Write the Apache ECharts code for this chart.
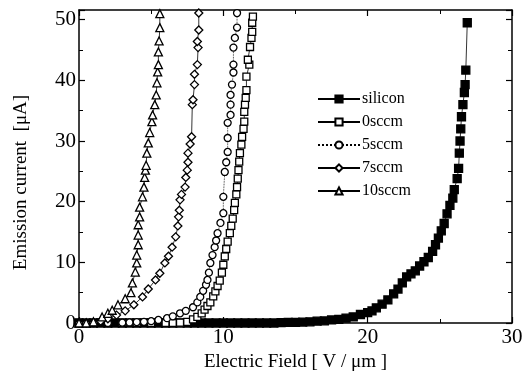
<!DOCTYPE html>
<html>
<head>
<meta charset="utf-8">
<script src="https://cdn.jsdelivr.net/npm/echarts@6/dist/echarts.min.js"></script>
<style>
  html, body { margin: 0; padding: 0; background: #fff; }
  #chart { width: 530px; height: 379px; }
</style>
</head>
<body>
<div id="chart"></div>
<script>
// emission current [uA] vs electric field [V/um]
const seriesNames = ["silicon", "0sccm", "5sccm", "7sccm", "10sccm"];

const silicon = [
  [0, 0], [0.5, 0], [1, 0], [1.5, 0], [2, 0], [2.5, 0], [3, 0], [3.5, 0], [4, 0], [4.5, 0],
  [5, 0], [5.5, 0], [6, 0], [6.5, 0], [7, 0], [7.5, 0], [8, 0], [8.5, 0], [9, 0], [9.5, 0],
  [10, 0], [10.5, 0], [11, 0], [11.5, 0], [12, 0], [12.5, 0], [13, 0], [13.5, 0],
  [14, 0.05], [14.5, 0.1], [15, 0.1], [15.5, 0.15], [16, 0.2], [16.5, 0.3], [17, 0.35],
  [17.5, 0.5], [18, 0.6], [18.5, 0.8], [19, 1.0], [19.5, 1.4], [20, 1.7], [20.3, 2.0],
  [20.6, 2.5], [21, 3.1], [21.4, 3.8], [21.8, 4.8], [22.1, 5.6], [22.4, 6.6], [22.7, 7.6],
  [23, 8.1], [23.3, 8.6], [23.6, 9.4], [23.9, 10.1], [24.2, 10.8], [24.5, 11.8], [24.7, 12.9],
  [24.9, 14.0], [25.1, 15.2], [25.3, 16.4], [25.5, 18.0], [25.7, 19.4], [25.9, 20.6],
  [26.0, 22.0], [26.2, 23.8], [26.3, 25.5], [26.35, 28.0], [26.4, 30.0], [26.45, 32.0],
  [26.5, 34.0], [26.6, 36.0], [26.7, 38.0], [26.75, 39.3], [26.8, 41.7], [26.9, 49.5]
];

const sccm0 = [
  [0, 0], [1, 0], [2, 0], [3, 0], [4, 0], [5, 0], [6, 0], [6.5, 0], [7, 0.05], [7.5, 0.2],
  [7.9, 0.6], [8.2, 1.0], [8.5, 1.6], [8.7, 2.2], [8.9, 2.8], [9.1, 3.4], [9.3, 4.4],
  [9.45, 5.2], [9.6, 6.1], [9.75, 7.0], [9.9, 8.3], [10.0, 9.6], [10.1, 11.0], [10.2, 12.2],
  [10.3, 13.4], [10.45, 14.8], [10.55, 16.0], [10.65, 17.2], [10.75, 18.6], [10.8, 19.8],
  [10.9, 21.2], [10.95, 22.4], [11.0, 23.8], [11.05, 25.2], [11.1, 26.6], [11.15, 28.0],
  [11.25, 29.4], [11.3, 30.7], [11.4, 32.0], [11.45, 33.2], [11.45, 34.8], [11.5, 36.0],
  [11.55, 37.1], [11.6, 38.4], [11.6, 40.6], [11.8, 42.6], [11.7, 43.4], [11.85, 45.5],
  [11.95, 47.0], [12.0, 48.0], [12.0, 49.5], [12.05, 50.5]
];

const sccm5 = [
  [0, 0], [1, 0], [2, 0], [3, 0.05], [3.5, 0.1], [4, 0.15], [4.5, 0.2], [5, 0.3], [5.5, 0.5],
  [6.1, 0.8], [6.5, 1.1], [7.0, 1.6], [7.4, 2.0], [7.9, 2.6], [8.2, 3.4], [8.4, 4.3],
  [8.6, 5.3], [8.8, 6.3], [8.9, 7.1], [9.0, 8.3], [9.1, 9.9], [9.25, 11.2], [9.4, 12.5],
  [9.5, 13.6], [9.6, 14.8], [9.8, 16.5], [10.0, 18.1], [10.0, 20.8], [10.1, 24.9],
  [10.2, 26.5], [10.3, 28.2], [10.3, 30.5], [10.3, 33.0], [10.5, 34.3], [10.5, 36.0],
  [10.5, 37.6], [10.6, 39.3], [10.7, 41.3], [10.7, 42.6], [10.7, 45.4], [10.8, 47.0],
  [10.95, 48.7], [10.95, 51.1]
];

const sccm7 = [
  [0, 0], [0.5, 0], [1, 0.1], [1.5, 0.3], [2.0, 0.7], [2.6, 1.3], [3.2, 2.0], [3.8, 3.0],
  [4.4, 4.3], [4.8, 5.6], [5.3, 7.1], [5.6, 8.2], [5.95, 9.9], [6.2, 11.0], [6.45, 12.5],
  [6.7, 14.2], [6.85, 16.0], [6.9, 17.5], [6.95, 18.6], [7.0, 20.3], [7.1, 21.2],
  [7.35, 22.4], [7.4, 24.0], [7.5, 25.2], [7.55, 26.5], [7.55, 28.0], [7.7, 29.5],
  [7.8, 30.7], [7.85, 36.0], [7.9, 36.8], [8.0, 39.3], [8.0, 41.0], [8.2, 42.6],
  [8.25, 45.4], [8.2, 46.4], [8.3, 48.3], [8.3, 51.1]
];

const sccm10 = [
  [0, 0], [0.5, 0], [1.0, 0.2], [1.6, 1.0], [2.0, 1.6], [2.3, 2.1], [2.7, 3.0], [3.2, 4.0],
  [3.6, 5.0], [3.7, 6.6], [3.9, 8.4], [4.0, 9.9], [4.0, 11.2], [4.1, 12.9], [4.1, 14.5],
  [4.1, 16.2], [4.2, 17.5], [4.2, 19.1], [4.4, 20.8], [4.5, 22.4], [4.55, 24.0], [4.6, 25.2],
  [4.65, 26.0], [4.7, 28.0], [4.8, 29.7], [4.9, 31.4], [5.05, 33.2], [5.1, 34.3],
  [5.25, 36.0], [5.35, 37.6], [5.4, 39.6], [5.45, 41.4], [5.5, 42.6], [5.5, 44.7],
  [5.55, 46.5], [5.6, 48.7], [5.6, 51.0]
];

const xTicks = [0, 10, 20, 30];
const yTicks = [0, 10, 20, 30, 40, 50];

const font = "Liberation Serif";
const chart = echarts.init(document.getElementById("chart"));

const axisCommon = {
  type: "value",
  axisLine: { show: true, onZero: false, lineStyle: { color: "#000", width: 1.5 } },
  axisTick: { show: true, inside: true, length: 6, lineStyle: { color: "#000", width: 1.2 } },
  minorTick: { show: true, splitNumber: 2, length: 4, lineStyle: { color: "#000", width: 1 } },
  splitLine: { show: false },
};

const makeSeries = (name, data, symbol, size, fill, dotted) => ({
  name: name,
  type: "line",
  data: data,
  symbol: symbol,
  symbolSize: size,
  showAllSymbol: true,
  itemStyle: { color: fill, borderColor: "#000", borderWidth: 1.3 },
  lineStyle: { color: "#000", width: 0.8, type: dotted ? "dotted" : "solid" },
  emphasis: { disabled: true },
});

const option = {
  animation: false,
  backgroundColor: "#fff",
  grid: { left: 79, right: 18, top: 10, bottom: 56, containLabel: false },
  legend: {
    orient: "vertical",
    left: 312,
    top: 86,
    itemWidth: 42,
    itemHeight: 9,
    itemGap: 7,
    data: seriesNames,
    textStyle: { fontFamily: font, fontSize: 16, color: "#000", padding: [0, 0, 0, -3] },
  },
  xAxis: [
    Object.assign({}, axisCommon, {
      min: 0, max: 30, interval: 10,
      name: "Electric Field [ V / μm ]",
      nameLocation: "middle",
      nameGap: 30,
      nameTextStyle: { fontFamily: font, fontSize: 19, color: "#000" },
      axisLabel: {
        fontFamily: font, fontSize: 21, color: "#000", margin: 4,
        formatter: (v) => (xTicks.indexOf(v) >= 0 ? String(v) : ""),
      },
    }),
    Object.assign({}, axisCommon, {
      position: "top", min: 0, max: 30, interval: 10,
      axisLabel: { show: false },
    }),
  ],
  yAxis: [
    Object.assign({}, axisCommon, {
      min: 0, max: 51.6, interval: 10,
      name: "Emission current  [μA]",
      nameLocation: "middle",
      nameGap: 48,
      nameTextStyle: { fontFamily: font, fontSize: 19, color: "#000", padding: [0, 32, 0, 0] },
      axisLabel: {
        fontFamily: font, fontSize: 21, color: "#000", margin: 3,
        formatter: (v) => (yTicks.indexOf(v) >= 0 ? String(v) : ""),
      },
    }),
    Object.assign({}, axisCommon, {
      position: "right", min: 0, max: 51.6, interval: 10,
      axisLabel: { show: false },
    }),
  ],
  series: [
    makeSeries("silicon", silicon, "rect", 8, "#000", false),
    makeSeries("0sccm", sccm0, "rect", 7, "#fff", false),
    makeSeries("5sccm", sccm5, "circle", 7, "#fff", true),
    makeSeries("7sccm", sccm7, "diamond", 8, "#fff", false),
    makeSeries("10sccm", sccm10, "triangle", 8, "#fff", false),
  ],
};

chart.setOption(option);
</script>
</body>
</html>
